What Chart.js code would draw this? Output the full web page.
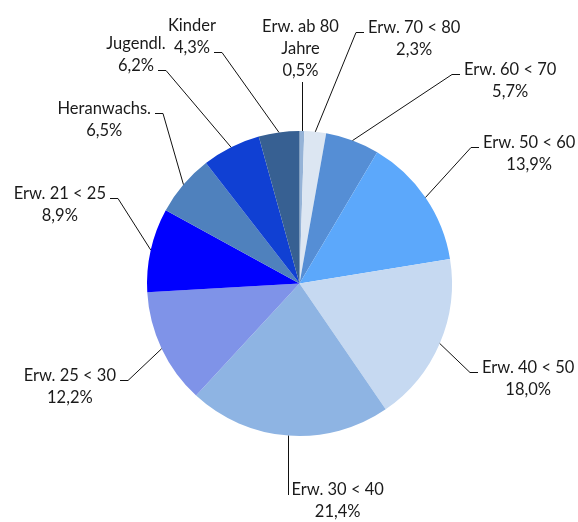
<!DOCTYPE html>
<html>
<head>
<meta charset="utf-8">
<script src="https://cdn.jsdelivr.net/npm/chart.js@4/dist/chart.umd.min.js"></script>
<style>
  html, body { margin: 0; padding: 0; background: #fff; }
  #ageChart { display: block; }
</style>
</head>
<body>
<canvas id="ageChart" width="578" height="522"></canvas>
<script>
// Altersgruppen, im Uhrzeigersinn ab 12 Uhr
const categories = [
  ["Erw. ab 80", "Jahre"],
  ["Erw. 70 < 80"],
  ["Erw. 60 < 70"],
  ["Erw. 50 < 60"],
  ["Erw. 40 < 50"],
  ["Erw. 30 < 40"],
  ["Erw. 25 < 30"],
  ["Erw. 21 < 25"],
  ["Heranwachs."],
  ["Jugendl."],
  ["Kinder"],
];
const shares = [0.5, 2.3, 5.7, 13.9, 18.0, 21.4, 12.2, 8.9, 6.5, 6.2, 4.3];
const sliceColors = [
  "#95b3d7", "#dce6f2", "#558ed5", "#5ca8fb", "#c6d9f1", "#8eb4e3",
  "#7f93e8", "#0000ff", "#4f81bd", "#1040d3", "#376092",
];

// where each leader line bends (offset from pie centre), which side the text sits,
// and which text line the short tick attaches to
const labelLayout = [
  { side: "top", dy: -201.5 },
  { side: "right", dx: 56.5, dy: -251.5, line: 0 },
  { side: "right", dx: 152.5, dy: -209.5, line: 0 },
  { side: "right", dx: 171.5, dy: -136.5, line: 0 },
  { side: "right", dx: 170.5, dy: 88.5, line: 0 },
  { side: "bottom", dy: 211.5 },
  { side: "left", dx: -171.5, dy: 96.5, line: 0 },
  { side: "left", dx: -181.5, dy: -85.5, line: 0 },
  { side: "left", dx: -136.5, dy: -170.5, line: 0 },
  { side: "left", dx: -133.5, dy: -213.5, line: 1 },
  { side: "left", dx: -77.5, dy: -231.5, line: 1 },
];

const fmtPct = (v) => v.toFixed(1).replace(".", ",") + "%";

const leaderLabels = {
  id: "leaderLabels",
  afterDatasetsDraw(chart) {
    const ctx = chart.ctx;
    const arcs = chart.getDatasetMeta(0).data;
    const lineH = 22;
    const tick = 8;
    const gap = 4;
    ctx.save();
    ctx.font = "16.5px Lato";
    ctx.fillStyle = "#1a1a1a";
    ctx.strokeStyle = "#111";
    ctx.lineWidth = 1;
    ctx.textBaseline = "middle";
    ctx.textAlign = "center";

    arcs.forEach((arc, i) => {
      const mid = (arc.startAngle + arc.endAngle) / 2;
      const ax = arc.x + Math.cos(mid) * arc.outerRadius;
      const ay = arc.y + Math.sin(mid) * arc.outerRadius;
      const lines = categories[i].concat([fmtPct(shares[i])]);
      const widths = lines.map((t) => ctx.measureText(t).width);
      const lay = labelLayout[i];
      let cx, firstY;

      if (lay.side === "top" || lay.side === "bottom") {
        const x = Math.round(ax) + 0.5;
        const ey = arc.y + lay.dy;
        ctx.beginPath();
        ctx.moveTo(x, ay);
        ctx.lineTo(x, ey);
        ctx.stroke();
        if (lay.side === "top") {
          cx = x - 2;
          firstY = ey - 11 - (lines.length - 1) * lineH;
        } else {
          cx = x + 3 + widths[0] / 2;
          firstY = ey - 5;
        }
      } else {
        const ex = arc.x + lay.dx;
        const ey = Math.round(arc.y + lay.dy) + 0.5;
        const dir = lay.side === "right" ? 1 : -1;
        ctx.beginPath();
        ctx.moveTo(ax, ay);
        ctx.lineTo(ex, ey);
        ctx.lineTo(ex + dir * tick, ey);
        ctx.stroke();
        const edge = ex + dir * (tick + gap);
        cx = edge + dir * widths[lay.line] / 2;
        firstY = ey - 5 - lay.line * lineH;
      }
      lines.forEach((t, k) => ctx.fillText(t, cx, firstY + k * lineH));
    });
    ctx.restore();
  },
};

new Chart(document.getElementById("ageChart"), {
  type: "pie",
  data: {
    labels: categories.map((c) => c.join(" ")),
    datasets: [
      {
        data: shares,
        backgroundColor: sliceColors,
        borderWidth: 0,
      },
    ],
  },
  options: {
    responsive: false,
    animation: false,
    layout: { padding: { left: 147, right: 126, top: 131, bottom: 86 } },
    plugins: {
      legend: { display: false },
      tooltip: { enabled: false },
    },
  },
  plugins: [leaderLabels],
});
</script>
</body>
</html>
